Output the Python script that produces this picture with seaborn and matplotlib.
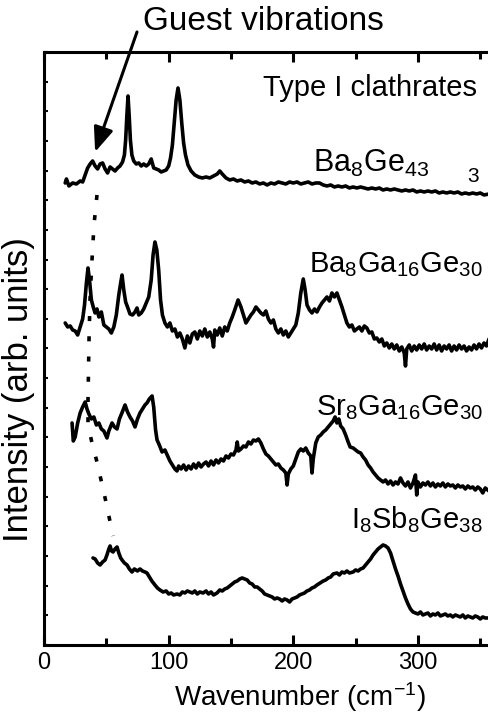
import matplotlib
matplotlib.use("Agg")
import matplotlib.pyplot as plt
from matplotlib.ticker import MultipleLocator, NullFormatter
import seaborn as sns

# Raman spectra (intensity in arb. units, offset per sample)
ba8ge43_x = [17, 18, 20, 23, 26, 29, 31, 33, 35, 37, 39, 41, 43, 45, 47, 49, 51, 53, 55, 57,
             59, 61, 63, 64.5, 65.5, 66.5, 67.4, 68.3, 69.3, 70.5, 72, 74, 76, 78, 80, 82, 84, 86,
             88, 90, 92, 94, 96, 98, 100, 101.5, 103, 104.5, 106, 107.5, 109, 110.5, 112, 113.5,
             115.5, 118, 121, 124, 127, 130, 133, 136, 139, 141, 143, 146, 149, 152, 155, 158,
             161, 164, 167, 170, 173, 176, 179, 182, 185, 188, 191, 194, 197, 200, 203, 206, 209,
             212, 215, 218, 221, 224, 227, 230, 233, 236, 239, 242, 245, 248, 251, 254, 257, 260,
             263, 266, 269, 272, 275, 278, 281, 284, 287, 290, 293, 296, 299, 302, 305, 308, 311,
             314, 317, 320, 323, 326, 329, 332, 335, 338, 341, 344, 347, 350, 353, 357]
ba8ge43_y = [462, 466, 459, 462, 461, 464, 463, 470, 477, 481, 484, 479, 476, 481, 482, 476, 472,
             478, 476, 474, 477, 479, 483, 490, 505, 530, 549, 530, 505, 490, 484, 481, 482, 479,
             481, 479, 481, 486, 477, 476, 475, 473, 474, 475, 479, 487, 500, 522, 545, 557, 545,
             522, 502, 490, 480, 474, 470, 468, 467, 468, 467, 469, 471, 474, 471, 467, 465, 466,
             464, 465, 463, 464, 462, 463, 461, 462, 460, 462, 461, 463, 462, 461, 463, 462, 463,
             461, 462, 463, 461, 462, 462, 460, 459, 460, 458, 459, 458, 459, 457, 458, 457, 458,
             457, 456, 457, 456, 457, 455, 456, 455, 456, 455, 454, 455, 454, 455, 453, 454, 453,
             454, 453, 454, 452, 453, 452, 453, 452, 453, 451, 452, 451, 452, 451, 452, 450, 451]

ba8ga16ge30_x = [17, 19, 21, 23, 25, 27, 29, 31, 32.5, 34, 35.3, 36.5, 38, 39.5, 41, 42.5, 44, 46,
                 48, 50, 52, 54, 56, 58, 60, 61.5, 62.6, 64, 65.5, 67, 69, 71, 73, 74.6, 76, 78,
                 80, 82, 84, 86, 87.5, 89, 90.5, 92, 93.5, 95, 97, 99, 101, 103, 105, 107, 109,
                 111, 113, 115, 117, 119, 121, 123, 125, 127, 129, 131, 133, 135, 136, 137, 139,
                 141, 143, 145, 147, 149, 151, 153, 155.7, 158, 160, 162, 164, 166, 168, 170, 172,
                 174, 176, 178, 180, 182, 184, 186, 188, 190, 192, 194, 196, 198, 200, 202, 204,
                 206, 208, 209.5, 211, 213, 215, 217, 219, 221, 223, 225, 227, 229, 231, 233, 235,
                 237, 239, 241, 243, 245, 247, 249, 251, 253, 255, 257, 259, 261, 263, 265, 267,
                 269, 271, 273, 275, 277, 279, 281, 283, 285, 287, 289, 290, 291, 293, 295, 297,
                 299, 301, 303, 305, 307, 309, 311, 313, 315, 317, 319, 321, 323, 325, 327, 329,
                 331, 333, 335, 337, 339, 341, 343, 345, 347, 349, 351, 353, 355, 357]
ba8ga16ge30_y = [322, 318, 319, 315, 314, 310, 318, 326, 340, 362, 377, 365, 345, 338, 332, 336,
                 328, 333, 320, 318, 316, 312, 318, 330, 350, 362, 370, 355, 343, 338, 331, 330,
                 333, 337, 330, 332, 336, 342, 348, 365, 390, 403, 395, 375, 345, 330, 322, 318,
                 322, 314, 316, 308, 312, 306, 297, 309, 302, 311, 313, 306, 314, 309, 316, 308,
                 313, 306, 298, 315, 310, 317, 309, 318, 314, 322, 328, 335, 345, 338, 330, 322,
                 326, 330, 333, 338, 335, 332, 330, 334, 326, 322, 325, 316, 312, 316, 310, 314,
                 308, 312, 316, 320, 332, 352, 366, 355, 340, 335, 332, 336, 333, 338, 342, 345,
                 348, 344, 352, 348, 352, 345, 338, 330, 322, 318, 320, 314, 316, 318, 314, 319,
                 317, 312, 313, 306, 307, 303, 306, 299, 302, 297, 301, 296, 300, 294, 298, 292,
                 279, 296, 300, 294, 299, 295, 300, 296, 301, 295, 299, 296, 301, 295, 300, 294,
                 299, 296, 300, 294, 299, 295, 300, 296, 299, 294, 298, 295, 300, 296, 301, 297,
                 302, 299, 306]

sr8ga16ge30_x = [22.5, 23.5, 25, 27, 29, 31, 33, 34.5, 36, 38, 40, 42, 44, 46, 48, 50.5, 52, 54.6,
                 56.5, 58.6, 60.5, 62.5, 65, 67, 69, 71, 73, 75, 77, 79, 81, 82.6, 84.5, 86.7, 88,
                 89.5, 90.7, 92.5, 94.7, 97, 99.5, 101, 103, 105, 106.7, 108, 110, 112, 114, 116,
                 118, 120, 122, 124, 126, 128, 130, 132, 134, 136, 138, 140, 142, 144, 146, 148,
                 150, 152, 154, 155, 156, 158, 160, 162, 164, 166, 168, 170, 172, 174, 176, 178,
                 180, 182, 184, 186, 188, 190, 192, 194, 195, 196, 198, 200, 202, 204, 206, 208,
                 210, 212, 214, 215, 216, 218, 220, 222, 224, 226, 228, 230, 232, 233.5, 235,
                 236.5, 238, 240, 242, 244, 245.6, 248, 250, 252, 254, 256, 258, 260, 262, 264,
                 266, 268, 270, 272, 274, 276, 278, 280, 282, 284, 286, 288, 290, 292, 294, 296,
                 298, 299, 300, 302, 304, 306, 308, 310, 312, 314, 316, 318, 320, 322, 324, 326,
                 328, 330, 332, 334, 336, 338, 340, 342, 344, 346, 348, 350, 352, 354, 357]
sr8ga16ge30_y = [222, 204, 208, 222, 232, 238, 243, 236, 231, 226, 228, 220, 222, 216, 214, 207,
                 214, 222, 218, 216, 226, 232, 240, 233, 228, 224, 218, 226, 232, 236, 240, 242,
                 246, 249, 238, 215, 205, 200, 193, 195, 188, 184, 180, 176, 174, 179, 176, 180,
                 175, 179, 176, 181, 177, 182, 178, 181, 183, 179, 184, 180, 185, 182, 186, 184,
                 189, 187, 191, 190, 195, 203, 194, 196, 199, 198, 203, 201, 205, 204, 206, 202,
                 196, 191, 189, 186, 183, 180, 181, 177, 175, 172, 160, 171, 176, 179, 186, 193,
                 196, 194, 197, 192, 189, 172, 186, 202, 208, 210, 213, 215, 218, 221, 224, 228,
                 222, 226, 219, 216, 210, 203, 198, 197, 195, 193, 192, 188, 185, 180, 177, 173,
                 170, 167, 165, 163, 165, 161, 164, 160, 163, 161, 167, 162, 159, 163, 157, 162,
                 170, 150, 163, 158, 162, 160, 163, 159, 162, 158, 161, 159, 162, 158, 161, 159,
                 160, 157, 160, 158, 159, 156, 159, 157, 158, 155, 158, 156, 152, 157, 154]

i8sb8ge38_x = [39.3, 41, 43, 45, 47, 49, 50.5, 52, 53, 54.2, 55.4, 57, 58.6, 60, 61.5, 62.6, 64.5,
               66.6, 68.5, 70.6, 72.5, 75, 77, 79, 81, 82.6, 84.5, 86.5, 89, 91, 93, 95.5, 98, 100,
               102, 104, 106.7, 109, 111, 113, 115, 117, 119, 121, 123, 125, 127.6, 130, 132, 134,
               136, 138.8, 141, 143, 145, 147, 149, 151, 153, 155, 157, 159, 161, 163, 165, 167,
               169, 171, 173, 175, 177, 179, 181, 183, 185, 187, 189, 191, 193, 195, 197, 199, 201,
               203, 205, 207, 209, 211, 213, 215, 217, 219, 221.5, 224, 226, 228, 230, 232, 235,
               237, 239, 241, 243, 245, 248, 250, 252, 254, 256, 258, 260, 262, 264, 266, 268, 270,
               272, 274, 276, 278, 280, 282, 284, 286, 288, 290, 292, 294, 296, 298, 300, 302, 304,
               306, 308, 310, 312, 314, 316, 318, 320, 322, 324, 326, 328, 330, 332, 334, 336, 338,
               340, 342, 344, 346, 348, 350, 352, 354, 357]
i8sb8ge38_y = [87, 86, 82, 80, 83, 85, 90, 96, 99, 94, 93, 96, 98, 92, 87, 85, 82, 80, 76, 73, 76,
               74, 76, 74, 73, 72, 68, 64, 60, 57, 55, 53, 54, 51, 52, 50, 51, 50, 53, 52, 54, 53,
               52, 54, 51, 53, 52, 54, 51, 53, 50, 52, 55, 54, 56, 57, 59, 61, 63, 64, 66, 67, 66,
               65, 62, 61, 58, 58, 56, 54, 51, 50, 49, 48, 46, 47, 46, 44, 46, 45, 43, 46, 47, 48,
               50, 51, 52, 54, 55, 57, 58, 60, 62, 64, 65, 67, 68, 71, 72, 70, 73, 72, 74, 72, 73,
               75, 74, 76, 77, 80, 83, 86, 90, 93, 96, 98, 100, 99, 97, 92, 84, 76, 69, 61, 54, 47,
               41, 36, 33, 32, 31, 33, 30, 31, 32, 29, 31, 30, 32, 29, 30, 31, 29, 30, 28, 30, 29,
               28, 30, 27, 29, 28, 27, 29, 28, 26, 28, 27, 27]

# dotted guide through the guest-vibration peaks
guide_x = [42.5, 40.1, 38.5, 36.9, 36.1, 35.3, 35.3, 38.5, 42.5, 49, 55.4]
guide_y = [450, 420, 385, 345, 305, 245, 220, 202, 183, 147, 109]

spectra = [
    (ba8ge43_x, ba8ge43_y),
    (ba8ga16ge30_x, ba8ga16ge30_y),
    (sr8ga16ge30_x, sr8ga16ge30_y),
    (i8sb8ge38_x, i8sb8ge38_y),
]

sns.set_theme(style="ticks", rc={"text.color": "black", "axes.labelcolor": "black",
                                 "xtick.color": "black", "ytick.color": "black",
                                 "axes.edgecolor": "black"})
plt.rcParams["font.family"] = ["Liberation Sans", "DejaVu Sans"]
plt.rcParams["mathtext.default"] = "regular"

fig = plt.figure(figsize=(4.89, 7.13), dpi=100)
ax = fig.add_axes([0.09, 0.0954, 0.91, 0.8317])

for xs, ys in spectra:
    sns.lineplot(x=xs, y=ys, ax=ax, color="black", lw=2.6, estimator=None, sort=False)

ax.plot(guide_x, guide_y, color="black", lw=2.6, ls=(0, (1.4, 4.2)))

# arrow + annotation text
ax.annotate("", xy=(41, 493), xytext=(74.6, 613), annotation_clip=False,
            arrowprops=dict(arrowstyle="-|>,head_length=0.75,head_width=0.3",
                            color="black", lw=2.2, mutation_scale=20, shrinkA=0, shrinkB=0))
ax.text(79.5, 623, "Guest vibrations", fontsize=24, va="center", ha="left", clip_on=False)
ax.text(347.5, 557, "Type I clathrates", fontsize=21, va="center", ha="right")

ax.text(216, 473, "Ba$_8$Ge$_{43}$", fontsize=22, va="baseline", ha="left")
ax.text(339.5, 463, "3", fontsize=15, va="baseline", ha="left")
ax.text(352, 373, "Ba$_8$Ga$_{16}$Ge$_{30}$", fontsize=21, va="baseline", ha="right")
ax.text(352, 230, "Sr$_8$Ga$_{16}$Ge$_{30}$", fontsize=21, va="baseline", ha="right")
ax.text(352, 117, "I$_8$Sb$_8$Ge$_{38}$", fontsize=21, va="baseline", ha="right")

ax.set_xlim(0, 357)
ax.set_ylim(0, 593)
ax.xaxis.set_major_locator(MultipleLocator(100))
ax.xaxis.set_minor_locator(MultipleLocator(50))
ax.yaxis.set_major_locator(MultipleLocator(593 / 20))
ax.yaxis.set_major_formatter(NullFormatter())

ax.spines["right"].set_visible(False)
for side in ["left", "bottom", "top"]:
    ax.spines[side].set_linewidth(2.2)

ax.tick_params(axis="x", which="both", direction="in", top=True, bottom=True,
               labelsize=17, pad=5)
ax.tick_params(axis="x", which="major", length=7, width=2.2)
ax.tick_params(axis="x", which="minor", length=5, width=2.2)
ax.tick_params(axis="y", which="major", direction="in", length=3, width=1.5, left=True, right=False)

ax.set_xlabel("Wavenumber (cm$^{-1}$)", fontsize=20)
ax.xaxis.set_label_coords(0.575, -0.059)
ax.set_ylabel("Intensity (arb. units)", fontsize=25)
ax.yaxis.set_label_coords(-0.020, 0.43)

fig.savefig("out.png", dpi=100)
